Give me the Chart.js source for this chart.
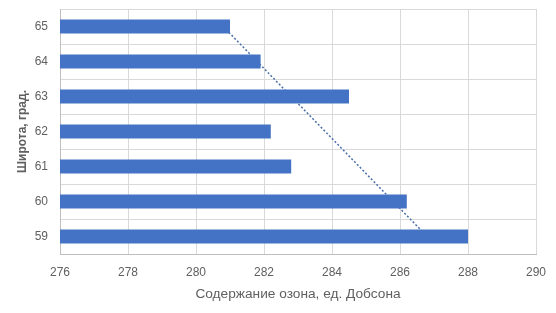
<!DOCTYPE html>
<html>
<head>
<meta charset="utf-8">
<script src="https://cdn.jsdelivr.net/npm/chart.js@4/dist/chart.umd.min.js"></script>
<style>
  html, body { margin: 0; padding: 0; background: #fff; }
  #wrap { width: 556px; height: 313px; }
</style>
</head>
<body>
<div id="wrap"><canvas id="ozoneChart"></canvas></div>
<script>
// latitude, top to bottom as on the picture
var latitudes = ['65', '64', '63', '62', '61', '60', '59'];
var ozone = [281.0, 281.9, 284.5, 282.2, 282.8, 286.2, 288.0];
// dotted trend line, read at its two ends (lat 65 and lat 59)
var trendLat = ['65', '59'];
var trendVal = [280.8, 286.8];
var xTicks = [276, 290, 2]; // min, max, step

var grey = '#606060';
var gridColor = '#d9d9d9';

var ctx = document.getElementById('ozoneChart');
var myChart = new Chart(ctx, {
    type: 'bar',
    data: {
        labels: latitudes,
        datasets: [
            {
                label: 'Озон',
                data: ozone,
                backgroundColor: '#4472C4',
                borderWidth: 0,
                barPercentage: 0.4,
                categoryPercentage: 1,
                order: 0
            },
            {
                type: 'line',
                label: 'Тренд',
                indexAxis: 'y',
                data: trendLat.map(function (l, i) { return { x: trendVal[i], y: l }; }),
                borderColor: '#4a6ea8',
                borderWidth: 1.5,
                borderDash: [2, 2],
                pointRadius: 0,
                fill: false,
                order: 1
            }
        ]
    },
    options: {
        indexAxis: 'y',
        responsive: true,
        maintainAspectRatio: false,
        animation: false,
        layout: { padding: { top: 9, right: 20, left: 0, bottom: 0 } },
        plugins: {
            legend: { display: false },
            tooltip: { enabled: false }
        },
        scales: {
            x: {
                min: xTicks[0],
                max: xTicks[1],
                afterFit: function (scale) {
                    scale.height = 59;
                    scale.paddingLeft = 0;
                    scale.paddingRight = 0;
                },
                ticks: {
                    stepSize: xTicks[2],
                    color: grey,
                    font: { family: 'Liberation Sans, Arial', size: 12 },
                    padding: 11
                },
                grid: { color: gridColor, lineWidth: 1, drawTicks: false },
                border: { color: '#bfbfbf' },
                title: {
                    display: true,
                    text: 'Содержание озона, ед. Добсона',
                    color: grey,
                    font: { family: 'Liberation Sans, Arial', size: 13.7 },
                    padding: { top: 0, bottom: 11 }
                }
            },
            y: {
                afterFit: function (scale) {
                    scale.width = 60;
                    scale.paddingTop = 0;
                    scale.paddingBottom = 0;
                },
                ticks: {
                    color: grey,
                    font: { family: 'Liberation Sans, Arial', size: 12 },
                    padding: 12
                },
                grid: { color: gridColor, lineWidth: 1, drawTicks: false, offset: true },
                border: { color: '#bfbfbf' },
                title: {
                    display: true,
                    text: 'Широта, град.',
                    color: grey,
                    font: { family: 'Liberation Sans, Arial', size: 12, weight: 'bold' },
                    padding: { top: 15, bottom: 0 }
                }
            }
        }
    }
});
</script>
</body>
</html>
